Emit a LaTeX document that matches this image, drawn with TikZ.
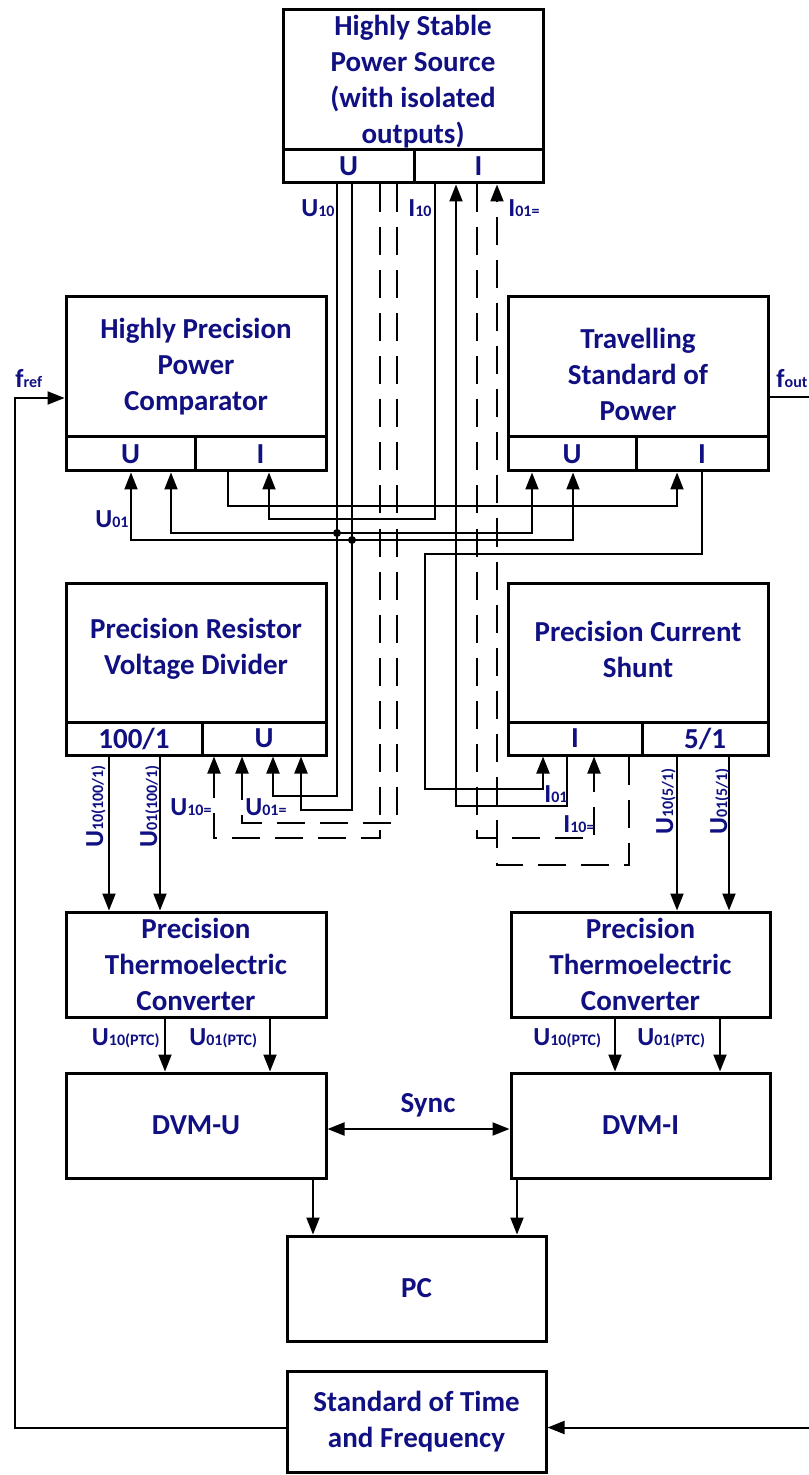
\documentclass[tikz,border=0pt]{standalone}
\usepackage{fontspec}
\setmainfont{Carlito}
\usetikzlibrary{arrows.meta,calc}
\definecolor{tb}{RGB}{16,16,130}
\newcommand\lbl[2]{{\fontsize{13}{15}\selectfont #1}{\fontsize{8}{10}\selectfont #2}}
\begin{document}
\begin{tikzpicture}[x=0.5pt,y=-0.5pt,
  font=\bfseries\fontsize{14.5}{18}\selectfont, text=tb,
  box/.style={draw=black, line width=1.5pt, align=center, inner sep=0pt},
  wire/.style={draw=black, line width=1pt},
  dsh/.style={wire, dash pattern=on 14pt off 7.5pt},
  arr/.style={-{Triangle[length=8.5pt,width=6.5pt]}},
  both/.style={{Triangle[length=8.5pt,width=6.5pt]}-{Triangle[length=8.5pt,width=6.5pt]}},
  dot/.style={circle, fill=black, inner sep=0pt, minimum size=4pt},
  lab/.style={inner sep=0pt}]
\useasboundingbox (0,0) rectangle (808,1475);

% helper x / y coordinates
\foreach \v in {109,131,160,165,171,214,228,242,269,270,273,301,313,337,352,380,397,435,456,477,497,517,532,543,567,573,594,615,629,677,702,720,729}
  {\coordinate (x\v) at (\v,0);}
\coordinate (y397) at (0,397);
\coordinate (y398) at (0,398);

% Power source
\node[box, minimum width=130pt, minimum height=70pt] (src) at (413,80) {};
\node[align=center] (srcT) at (413,82) {Highly Stable\\Power Source\\(with isolated\\outputs)};
\node[box, minimum width=65.5pt, minimum height=16.5pt] (srcU) at (348.5,166.5) {U};
\node[box, minimum width=64.5pt, minimum height=16.5pt] (srcI) at (478.5,166.5) {I};

% Comparator
\node[box, minimum width=130pt, minimum height=70pt] (cmp) at (196,367) {Highly Precision\\Power\\Comparator};
\node[box, minimum width=64.5pt, minimum height=17pt] (cmpU) at (130.5,454) {U};
\node[box, minimum width=65.5pt, minimum height=17pt] (cmpI) at (260.5,454) {I};

% Travelling standard
\node[box, minimum width=130pt, minimum height=70pt] (trv) at (638,367) {};
\node[align=center] (trvT) at (638,374) {Travelling\\Standard of\\Power};
\node[box, minimum width=64pt, minimum height=17pt] (trvU) at (572,454) {U};
\node[box, minimum width=66pt, minimum height=17pt] (trvI) at (702,454) {I};

% Divider
\node[box, minimum width=130pt, minimum height=69.5pt] (div) at (196,652.5) {};
\node[align=center] (divT) at (196,649) {Precision Resistor\\Voltage Divider};
\node[box, minimum width=68pt, minimum height=16.5pt] (div1) at (134,738.5) {100/1};
\node[box, minimum width=62pt, minimum height=16.5pt] (divU) at (264,738.5) {U};

% Shunt
\node[box, minimum width=130pt, minimum height=69.5pt] (sh) at (638,652.5) {};
\node[align=center] (shT) at (638,649) {Precision Current\\Shunt};
\node[box, minimum width=67pt, minimum height=16.5pt] (shI) at (575,738.5) {I};
\node[box, minimum width=63pt, minimum height=16.5pt] (sh5) at (705,738.5) {5/1};

% Converters, DVMs, PC, standard
\node[box, minimum width=130pt, minimum height=52.5pt] (thL) at (196,964.5) {Precision\\Thermoelectric\\Converter};
\node[box, minimum width=129.5pt, minimum height=52.5pt] (thR) at (640.5,964.5) {Precision\\Thermoelectric\\Converter};
\node[box, minimum width=130pt, minimum height=52.5pt] (dvU) at (196,1125.5) {DVM-U};
\node[box, minimum width=129.5pt, minimum height=52.5pt] (dvI) at (640.5,1125.5) {DVM-I};
\node[box, minimum width=129.5pt, minimum height=52.5pt] (pc) at (416.5,1288.5) {PC};
\node[box, minimum width=129.5pt, minimum height=50.5pt] (std) at (416.5,1421.5) {Standard of Time\\and Frequency};

% U wiring (solid)
\draw[wire,arr] (srcU.south -| x337) -- (337,796) -- (273,796) -- (divU.south -| x273);
\draw[wire,arr] (srcU.south -| x352) -- (352,810) -- (301,810) -- (divU.south -| x301);
% U wiring (dashed)
\draw[dsh,arr] (srcU.south -| x380) -- (380,838) -- (214,838) -- (divU.south -| x214);
\draw[dsh,arr] (srcU.south -| x397) -- (397,823) -- (242,823) -- (divU.south -| x242);
% U buses to comparator and travelling standard
\draw[wire,both] (cmpU.south -| x171) -- (171,533) -- (532,533) -- (trvU.south -| x532);
\draw[wire,both] (cmpU.south -| x131) -- (131,540) -- (573,540) -- (trvU.south -| x573);
\node[dot] (d1) at (337,533) {};
\node[dot] (d2) at (352,540) {};

% I chain
\draw[wire,arr] (srcI.south -| x435) -- (435,519) -- (269,519) -- (cmpI.south -| x269);
\draw[wire,arr] (cmpI.south -| x228) -- (228,506) -- (677,506) -- (trvI.south -| x677);
\draw[wire,arr] (trvI.south -| x702) -- (702,554) -- (425,554) -- (425,789) -- (543,789) -- (shI.south -| x543);
\draw[wire,arr] (shI.south -| x567) -- (567,806) -- (456,806) -- (srcI.south -| x456);
\draw[dsh,arr] (srcI.south -| x477) -- (477,838) -- (594,838) -- (shI.south -| x594);
\draw[dsh,arr] (shI.south -| x629) -- (629,865) -- (497,865) -- (srcI.south -| x497);

% divider / shunt outputs
\draw[wire,arr] (div1.south -| x109) -- (thL.north -| x109);
\draw[wire,arr] (div1.south -| x160) -- (thL.north -| x160);
\draw[wire,arr] (sh5.south -| x677) -- (thR.north -| x677);
\draw[wire,arr] (sh5.south -| x729) -- (thR.north -| x729);
% converters to DVMs
\draw[wire,arr] (thL.south -| x165) -- (dvU.north -| x165);
\draw[wire,arr] (thL.south -| x270) -- (dvU.north -| x270);
\draw[wire,arr] (thR.south -| x615) -- (dvI.north -| x615);
\draw[wire,arr] (thR.south -| x720) -- (dvI.north -| x720);
% DVMs to PC, sync
\draw[wire,arr] (dvU.south -| x313) -- (pc.north -| x313);
\draw[wire,arr] (dvI.south -| x517) -- (pc.north -| x517);
\draw[wire,both] ([yshift=-1.75pt]dvU.east) -- ([yshift=-1.75pt]dvI.west);
% frequency lines
\draw[wire,arr] ([yshift=-3pt]std.west) -- (15,1427.5) -- (15,398) -- (cmp.west |- y398);
\draw[wire,arr] (trv.east |- y397) -- (840,397) -- (840,1427.5) -- ([yshift=-3pt]std.east);

% labels
\node[lab, anchor=base east] (lU10) at (335,217) {\lbl{U}{10}};
\node[lab, anchor=base west] (lI10) at (408,217) {\lbl{I}{10}};
\node[lab, anchor=base west] (lI01e) at (508,217) {\lbl{I}{01=}};
\node[lab, anchor=base west] (lU01) at (95,528) {\lbl{U}{01}};
\node[lab, anchor=base west] (lU10e) at (170,815) {\lbl{U}{10=}};
\node[lab, anchor=base west] (lU01e) at (245,815) {\lbl{U}{01=}};
\node[lab, anchor=base west] (lI01) at (544,802) {\lbl{I}{01}};
\node[lab, anchor=base west] (lI10e) at (563,832) {\lbl{I}{10=}};
\node[lab, anchor=base west, rotate=90] (lUa) at (103,848) {\lbl{U}{10(100/1)}};
\node[lab, anchor=base west, rotate=90] (lUb) at (157,848) {\lbl{U}{01(100/1)}};
\node[lab, anchor=base west, rotate=90] (lUc) at (673,835) {\lbl{U}{10(5/1)}};
\node[lab, anchor=base west, rotate=90] (lUd) at (727,835) {\lbl{U}{01(5/1)}};
\node[lab, anchor=base east] (lP1) at (160,1045) {\lbl{U}{10(PTC)}};
\node[lab, anchor=base west] (lP2) at (189,1045) {\lbl{U}{01(PTC)}};
\node[lab, anchor=base west] (lP3) at (533,1045) {\lbl{U}{10(PTC)}};
\node[lab, anchor=base west] (lP4) at (637,1045) {\lbl{U}{01(PTC)}};
\node[lab] (lsync) at (428,1105) {Sync};
\node[lab, anchor=base west] (lfref) at (15,388) {\lbl{f}{ref}};
\node[lab, anchor=base west] (lfout) at (776,388) {\lbl{f}{out}};
\end{tikzpicture}
\end{document}
